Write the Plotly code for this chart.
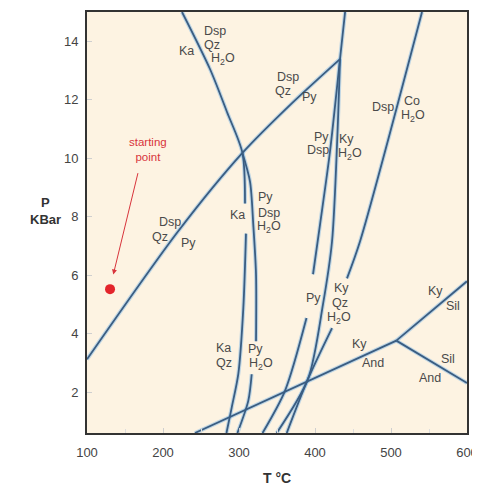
import plotly.graph_objects as go

# ---- data (T in °C, P in kbar); None = gap in a curve ----
curveA_T = [225, 261.8, 284.2, 304.5, 307.9, None, 309.2, 305.7, 299.1, 290.4, 283.5]
curveA_P = [15.0, 13.05, 11.58, 10.18, 8.45, None, 7.42, 4.88, 2.62, 1.47, 0.6]

curveB_T = [304.5, 314.5, 318.8, 322.4, 322.4, None, 316.7, 312.2, 297.9]
curveB_P = [10.18, 9.20, 7.72, 6.03, 3.74, None, 2.61, 1.70, 0.6]

lineC_T = [100, 219.7, 304.5, 368.4, 432.9]
lineC_P = [3.12, 7.49, 10.18, 11.85, 13.39]

lineD1_T = [439.6, 432.9, 419.7, 406.6, 397.4, None, 388.8, 360.5, 331.0]
lineD1_P = [15.0, 13.39, 10.22, 7.73, 6.03, None, 4.53, 2.04, 0.6]

lineD2_T = [432.9, 429.5, 422.4, 410.5, 390.8, 349.6]
lineD2_P = [13.39, 10.8, 7.15, 5.0, 2.45, 0.6]

lineE_T = [540.8, 459.2, 442.1, None, 422.4, 390.8, 362.8]
lineE_P = [15.0, 7.15, 5.89, None, 4.19, 2.45, 0.6]

kyand_T = [242.0, 507.0]
kyand_P = [0.6, 3.76]
kysil_T = [507.0, 600.0]
kysil_P = [3.76, 5.79]
silAnd_T = [507.0, 600.0]
silAnd_P = [3.76, 2.31]

start_T = [130.3]
start_P = [5.52]

label_text = ["Dsp", "Qz", "H<sub>2</sub>O", "Ka",
              "Ka", "Dsp", "Qz", "Py",
              "Dsp", "Qz", "Py",
              "Dsp", "Co", "H<sub>2</sub>O",
              "Py", "Dsp", "Ky", "H<sub>2</sub>O",
              "Py", "Dsp", "H<sub>2</sub>O",
              "Ka", "Qz", "Py", "H<sub>2</sub>O",
              "Py", "Ky", "Qz", "H<sub>2</sub>O",
              "Ky", "And", "Ky", "Sil", "Sil", "And"]
label_T = [268.4, 264.1, 278.7, 231.2,
           297.4, 209.2, 196.1, 233.3,
           364.5, 358.3, 392.1,
           489.5, 527.2, 529.3,
           408.8, 404.3, 441.7, 445.7,
           335.3, 339.7, 339.7,
           279.3, 280.5, 322.1, 328.7,
           397.8, 435.1, 432.9, 431.8,
           459.2, 476.7, 557.9, 581.9, 575.4, 551.3]
label_P = [14.36, 13.87, 13.38, 13.68,
           8.04, 7.83, 7.32, 7.09,
           12.77, 12.29, 12.09,
           11.75, 11.96, 11.43,
           10.73, 10.28, 10.67, 10.16,
           8.68, 8.12, 7.66,
           3.52, 3.0, 3.46, 2.95,
           5.22, 5.56, 5.05, 4.54,
           3.63, 2.98, 5.47, 4.94, 3.12, 2.49]

x_ticks = [100, 200, 300, 400, 500, 600]
y_ticks = [2, 4, 6, 8, 10, 12, 14]

LINE = "#3a5d82"
HALO = "rgba(140,190,230,0.55)"
FONT = "Liberation Sans, Arial, sans-serif"

fig = go.Figure()

curves = [(curveA_T, curveA_P), (curveB_T, curveB_P), (lineC_T, lineC_P),
          (lineD1_T, lineD1_P), (lineD2_T, lineD2_P), (lineE_T, lineE_P),
          (kyand_T, kyand_P), (kysil_T, kysil_P), (silAnd_T, silAnd_P)]

for T, P in curves:
    fig.add_trace(go.Scatter(x=T, y=P, mode="lines", hoverinfo="skip",
                             line=dict(color=HALO, width=4, shape="spline", smoothing=0.8),
                             connectgaps=False, showlegend=False))
for T, P in curves:
    fig.add_trace(go.Scatter(x=T, y=P, mode="lines", hoverinfo="skip",
                             line=dict(color=LINE, width=1.8, shape="spline", smoothing=0.8),
                             connectgaps=False, showlegend=False))

fig.add_trace(go.Scatter(x=start_T, y=start_P, mode="markers", showlegend=False,
                         marker=dict(color="#e3242b", size=10)))

ann = []
for t, x, y in zip(label_text, label_T, label_P):
    ann.append(dict(x=x, y=y, xref="x", yref="y", text=t, showarrow=False,
                    font=dict(family=FONT, size=12.5, color="#4a4a4a"),
                    xanchor="center", yanchor="middle"))

ann.append(dict(x=180.7, y=10.31, xref="x", yref="y", text="starting<br>point",
                showarrow=False, align="center", xanchor="center", yanchor="middle",
                font=dict(family=FONT, size=11.5, color="#d8343c")))
ann.append(dict(x=134.6, y=6.02, xref="x", yref="y", ax=167.5, ay=9.54,
                axref="x", ayref="y", text="", showarrow=True,
                arrowhead=2, arrowsize=1, arrowwidth=1, arrowcolor="#d8343c"))

ann.append(dict(x=-0.108, y=0.548, xref="paper", yref="paper", text="<b>P</b>",
                showarrow=False, xanchor="center", yanchor="middle",
                font=dict(family=FONT, size=13, color="#333")))
ann.append(dict(x=-0.108, y=0.507, xref="paper", yref="paper", text="<b>KBar</b>",
                showarrow=False, xanchor="center", yanchor="middle",
                font=dict(family=FONT, size=13, color="#333")))
ann.append(dict(x=0.5, y=-0.107, xref="paper", yref="paper", text="<b>T °C</b>",
                showarrow=False, xanchor="center", yanchor="middle",
                font=dict(family=FONT, size=14, color="#333")))

fig.update_layout(
    width=472, height=479,
    margin=dict(l=79, r=13, t=2, b=54),
    paper_bgcolor="white", plot_bgcolor="#fdf3e2",
    annotations=ann, showlegend=False,
)
fig.update_xaxes(range=[100, 600], tickvals=x_ticks, showgrid=False, zeroline=False,
                 showline=True, linecolor="#333", linewidth=2, mirror=True,
                 ticks="inside", ticklen=5, tickcolor="#cfcfcf",
                 minor=dict(dtick=50, ticks="inside", ticklen=4, tickcolor="#dddddd"),
                 tickfont=dict(family=FONT, size=13, color="#444"), ticklabelstandoff=6)
fig.update_yaxes(range=[0.6, 15], tickvals=y_ticks, showgrid=False, zeroline=False,
                 showline=True, linecolor="#333", linewidth=2, mirror=True,
                 ticks="inside", ticklen=5, tickcolor="#cfcfcf",
                 tickfont=dict(family=FONT, size=13, color="#444"), ticklabelstandoff=4)

fig.write_html("out.html")
